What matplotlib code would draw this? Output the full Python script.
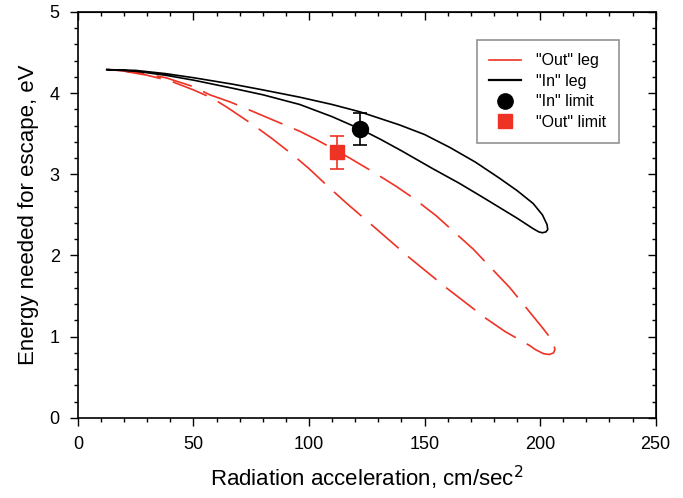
import matplotlib
matplotlib.use("Agg")
import matplotlib.pyplot as plt
from matplotlib.lines import Line2D
from matplotlib.ticker import MultipleLocator

plt.rcParams["font.family"] = ["Liberation Sans", "DejaVu Sans"]

# "In" leg: closed loop, upper branch out to the tip then lower branch back
in_x = [12.5, 25, 38, 50, 67, 80, 96, 110, 122, 139, 150, 161, 172, 182, 190, 197, 201, 203, 203.3,
        202.5, 201, 199.5, 197, 190, 175, 165, 153.5, 140, 131, 122, 110, 96, 80, 67, 50, 38, 25, 12.5]
in_y = [4.29, 4.28, 4.24, 4.19, 4.11, 4.04, 3.95, 3.86, 3.77, 3.61, 3.49, 3.33, 3.15, 2.96, 2.80, 2.64, 2.50, 2.38, 2.32,
        2.29, 2.28, 2.29, 2.33, 2.46, 2.72, 2.89, 3.07, 3.29, 3.43, 3.56, 3.71, 3.86, 3.98, 4.06, 4.16, 4.22, 4.27, 4.29]

# "Out" leg
out_x = [13, 25, 38, 50, 57, 66, 74.4, 86, 96, 103, 112, 117.6, 127.7, 137.8, 145, 155, 171, 187, 201, 204, 205.8,
         206.4, 205.8, 204, 201.5, 198, 195.5, 185, 176.8, 159.5, 143.6, 127, 116, 109, 100, 93, 84, 75.8, 64.3, 58,
         50, 40, 30, 20, 13]
out_y = [4.29, 4.26, 4.19, 4.08, 3.98, 3.89, 3.79, 3.65, 3.53, 3.43, 3.29, 3.20, 3.03, 2.85, 2.71, 2.49, 2.08, 1.60, 1.11, 1.00, 0.92,
         0.84, 0.80, 0.78, 0.79, 0.84, 0.89, 1.06, 1.22, 1.60, 1.97, 2.38, 2.65, 2.83, 3.07, 3.24, 3.44, 3.61, 3.83, 3.94,
         4.04, 4.15, 4.22, 4.27, 4.29]

# measured limits with error bars
in_lim_x, in_lim_y, in_lim_err = 122, 3.56, 0.20
out_lim_x, out_lim_y, out_lim_err = 112, 3.27, 0.20

red = "#ee3224"

fig = plt.figure(figsize=(6.83, 4.98), dpi=100)
ax = fig.add_axes([0.114, 0.161, 0.846, 0.815])

ax.plot(out_x, out_y, color=red, lw=1.2, dashes=(22, 7.5))
ax.plot(in_x, in_y, color="black", lw=1.2)
ax.errorbar(in_lim_x, in_lim_y, yerr=in_lim_err, fmt="o", color="black", ms=11.5,
            capsize=5, elinewidth=1.2, capthick=1.2, zorder=5)
ax.errorbar(out_lim_x, out_lim_y, yerr=out_lim_err, fmt="s", color=red, ms=10,
            capsize=5, elinewidth=1.2, capthick=1.2, zorder=5)

ax.set_xlim(0, 250)
ax.set_ylim(0, 5)
ax.xaxis.set_major_locator(MultipleLocator(50))
ax.xaxis.set_minor_locator(MultipleLocator(10))
ax.yaxis.set_major_locator(MultipleLocator(1))
ax.yaxis.set_minor_locator(MultipleLocator(0.2))
ax.tick_params(which="both", direction="out", top=False, right=False, labelsize=13, width=1, pad=7)
ax.tick_params(which="major", length=6)
ax.tick_params(which="minor", length=3)
# inward ticks on top and right
sec_x = ax.secondary_xaxis("top")
sec_x.xaxis.set_major_locator(MultipleLocator(50))
sec_x.xaxis.set_minor_locator(MultipleLocator(10))
sec_x.tick_params(which="both", direction="in", labeltop=False, width=1)
sec_x.tick_params(which="major", length=6)
sec_x.tick_params(which="minor", length=3)
sec_y = ax.secondary_yaxis("right")
sec_y.yaxis.set_major_locator(MultipleLocator(1))
sec_y.yaxis.set_minor_locator(MultipleLocator(0.2))
sec_y.tick_params(which="both", direction="in", labelright=False, width=1)
sec_y.tick_params(which="major", length=6)
sec_y.tick_params(which="minor", length=3)
for s in ax.spines.values():
    s.set_linewidth(1.2)

ax.set_xlabel("Radiation acceleration, cm/sec$^2$", fontsize=16, labelpad=8)
ax.set_ylabel("Energy needed for escape, eV", fontsize=16, labelpad=8)

handles = [
    Line2D([], [], color=red, lw=1.2),
    Line2D([], [], color="black", lw=1.6),
    Line2D([], [], color="black", marker="o", ls="none", ms=11),
    Line2D([], [], color=red, marker="s", ls="none", ms=10),
]
labels = ['"Out" leg', '"In" leg', '"In" limit', '"Out" limit']
leg = ax.legend(handles, labels, loc="upper left", bbox_to_anchor=(0.69, 0.93), fontsize=11.5,
                frameon=True, fancybox=False, edgecolor="#777777", handlelength=2.0,
                handletextpad=0.9, borderpad=0.8, labelspacing=0.35, borderaxespad=0)
leg.get_frame().set_linewidth(1.2)

fig.savefig("out.png", dpi=100)
